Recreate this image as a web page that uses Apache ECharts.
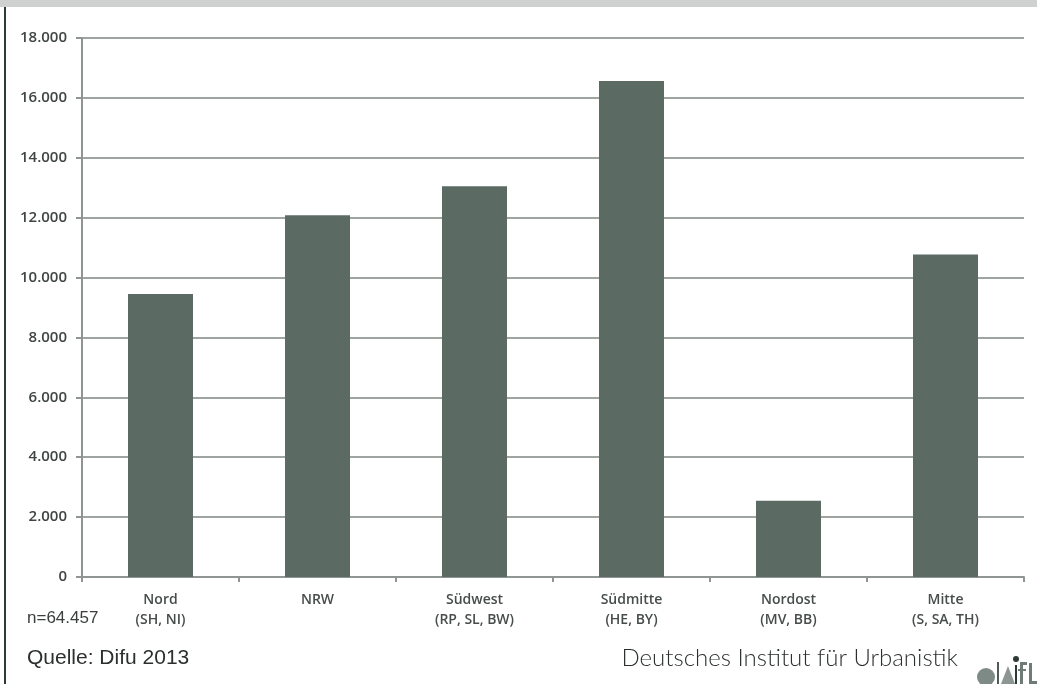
<!DOCTYPE html>
<html>
<head>
<meta charset="utf-8">
<script src="https://cdn.jsdelivr.net/npm/echarts@6/dist/echarts.min.js"></script>
<style>
  html, body { margin: 0; padding: 0; background: #fff; }
  #chart { width: 1037px; height: 684px; }
</style>
</head>
<body>
<div id="chart"></div>
<script>
// Regionen und Anzahl
var regionen = ["Nord\n(SH, NI)", "NRW", "Südwest\n(RP, SL, BW)", "Südmitte\n(HE, BY)", "Nordost\n(MV, BB)", "Mitte\n(S, SA, TH)"];
var anzahl = [9450, 12080, 13050, 16560, 2550, 10770];

var chart = echarts.init(document.getElementById("chart"));

function fmt(v) {
  // Tausenderpunkt
  return String(v).replace(/\B(?=(\d{3})+(?!\d))/g, ".");
}

var option = {
  animation: false,
  grid: { left: 82, right: 13, top: 38, bottom: 107 },
  xAxis: {
    type: "category",
    data: regionen,
    axisLine: { lineStyle: { color: "#8f9692", width: 2 } },
    axisTick: { show: true, length: 5, lineStyle: { color: "#8f9692", width: 2 } },
    axisLabel: {
      margin: 13,
      color: "#474d4a",
      fontFamily: "Open Sans",
      fontWeight: 600,
      fontSize: 14,
      lineHeight: 20,
    },
  },
  yAxis: {
    type: "value",
    min: 0,
    max: 18000,
    interval: 2000,
    axisLine: { show: true, lineStyle: { color: "#8f9692", width: 2 } },
    axisTick: { show: true, length: 6, lineStyle: { color: "#8f9692", width: 2 } },
    splitLine: { lineStyle: { color: "#9ea5a1", width: 2 } },
    axisLabel: {
      margin: 15,
      color: "#3f4542",
      fontFamily: "Open Sans",
      fontWeight: 600,
      fontSize: 15,
      formatter: fmt,
    },
  },
  series: [
    {
      type: "bar",
      data: anzahl,
      barWidth: 65,
      itemStyle: { color: "#5b6b64" },
    },
  ],
  graphic: [
    // oberer grauer Balken
    { type: "rect", left: 0, top: 0, shape: { width: 1037, height: 7 }, style: { fill: "#cdd1d0" } },
    // linke Randlinie
    { type: "rect", left: 4, top: 7, shape: { width: 2, height: 677 }, style: { fill: "#2e3a35" } },
    {
      type: "text", left: 27, top: 610,
      style: { text: "n=64.457", fill: "#3a3f3d", font: "17px 'Liberation Sans'" },
    },
    {
      type: "text", left: 27, top: 648,
      style: { text: "Quelle: Difu 2013", fill: "#2b302e", font: "21px 'Liberation Sans'" },
    },
    {
      type: "text", right: 79, top: 646,
      style: { text: "Deutsches Institut für Urbanistik", fill: "#2b302e", font: "300 24px 'Lato'" },
    },
    // Logo
    { type: "circle", shape: { cx: 986, cy: 677, r: 9 }, style: { fill: "#7e8a85" } },
    { type: "rect", shape: { x: 997, y: 662, width: 2, height: 22 }, style: { fill: "#4f5b56" } },
    {
      type: "polygon",
      shape: { points: [[1008, 666], [1001, 684], [1015, 684]] },
      style: { fill: "#8d9792" },
    },
    { type: "circle", shape: { cx: 1016, cy: 659, r: 3 }, style: { fill: "#2e3a35" } },
    { type: "rect", shape: { x: 1015, y: 665, width: 2, height: 19 }, style: { fill: "#2e3a35" } },
    { type: "rect", shape: { x: 1020, y: 662, width: 3, height: 22 }, style: { fill: "#6f7b76" } },
    { type: "rect", shape: { x: 1020, y: 662, width: 7, height: 3 }, style: { fill: "#6f7b76" } },
    { type: "rect", shape: { x: 1018, y: 669, width: 8, height: 2 }, style: { fill: "#6f7b76" } },
    { type: "rect", shape: { x: 1029, y: 663, width: 3, height: 21 }, style: { fill: "#6f7b76" } },
    { type: "rect", shape: { x: 1029, y: 681, width: 8, height: 3 }, style: { fill: "#6f7b76" } },
  ],
};

chart.setOption(option);
</script>
</body>
</html>
